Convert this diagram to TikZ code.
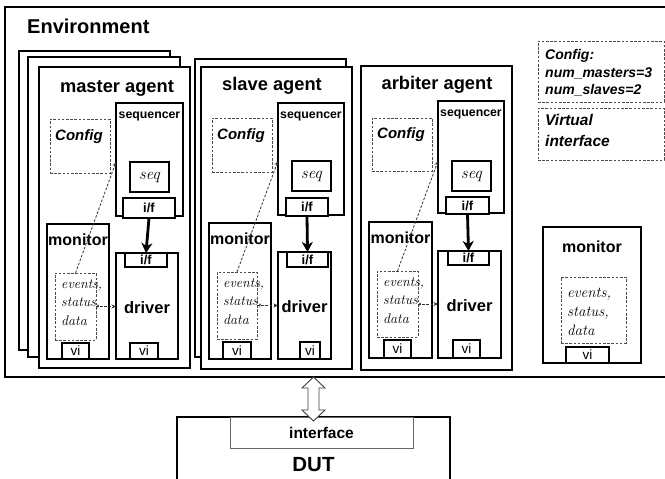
\documentclass[tikz,border=0pt]{standalone}
\usepackage{fontspec}
\newfontfamily\arial{Liberation Sans}
\usetikzlibrary{calc,arrows.meta}
\newcommand\fs[1]{\fontsize{#1}{#1}\selectfont}
% \rbox{style}{name}{x1}{y1}{x2}{y2}
\newcommand\rbox[6]{\node[#1, anchor=north west, minimum width={#5-#3}, minimum height={#6-#4}] (#2) at (#3,#4) {};}
\tikzset{
  basebox/.style={inner sep=0pt, outer sep=0pt, fill=white},
  envbox/.style={basebox, draw=black, line width=2.4pt},
  agentbox/.style={basebox, draw=black, line width=2pt},
  partbox/.style={basebox, draw=black, line width=1.9pt},
  smallbox/.style={basebox, draw=black, line width=1.6pt},
  dashbox/.style={inner sep=0pt, outer sep=0pt, draw=black!70, line width=0.8pt, dash pattern=on 2.6pt off 1.6pt},
  ifacebox/.style={basebox, draw=black!60, line width=0.8pt},
  sanslbl/.style={inner sep=0pt, anchor=base, font=\arial\bfseries\fs{#1}},
  sanslbl/.default=16,
  bilbl/.style={inner sep=0pt, anchor=base west, font=\arial\bfseries\itshape\fs{#1}},
  evlbl/.style={inner sep=0pt, anchor=base west, font=\itshape\fs{#1}},
  cntlbl/.style={inner sep=0pt, font=\arial\bfseries\fs{#1}},
  vilbl/.style={inner sep=0pt, font=\arial\fs{13.5}},
  seqlbl/.style={inner sep=0pt, font=\itshape\fs{16.5}},
  thickarrow/.style={line width=2.8pt, -{Stealth[length=10pt,width=11pt,inset=3pt]}},
  dasharrow/.style={draw=black!80, line width=0.8pt, dash pattern=on 2.6pt off 1.6pt, -{Stealth[length=4.5pt,width=4pt]}},
}
\begin{document}
\begin{tikzpicture}[x=1pt,y=-1pt]
\useasboundingbox (0,0) rectangle (665,479);
\fill[white] (0,0) rectangle (665,479);

% Environment
\rbox{envbox}{env}{5}{7}{669}{377}
\node[sanslbl=20, anchor=base west] (envlbl) at (27,33) {Environment};

% ---------- master agent (stack of three) ----------
\rbox{agentbox}{mback1}{19}{51}{170}{350}
\rbox{agentbox}{mback2}{28}{57}{180}{357}
\rbox{agentbox}{magent}{39}{67}{190}{368}
\node[sanslbl=18.3] (mtitle) at (117,92) {master agent};
\rbox{partbox}{mseqr}{116}{103}{183}{216}
\node[sanslbl=12.3] (mseqrl) at (149.5,118) {sequencer};
\rbox{dashbox}{mcfg}{50}{119}{110}{173}
\node[bilbl=15] (mcfgl) at (55,140) {Config};
\rbox{smallbox}{mseq}{130}{162}{169}{192}
\node[seqlbl] (mseql) at (mseq.center) {seq};
\rbox{smallbox}{mif1}{123}{198}{175}{218}
\node[cntlbl=13] (mif1l) at (mif1.center) {i/f};
\rbox{partbox}{mmon}{47}{224}{109}{359}
\node[sanslbl=16] (mmonl) at (78,245) {monitor};
\rbox{partbox}{mdrv}{116}{253}{178}{359}
\node[cntlbl=16.5] (mdrvl) at (147,308) {driver};
\rbox{smallbox}{mif2}{125}{253}{167}{267}
\node[cntlbl=13] (mif2l) at (mif2.center) {i/f};
\rbox{dashbox}{mev}{55}{273}{96}{340}
\node[evlbl=14] (mev1) at (61,288) {events,};
\node[evlbl=14] (mev2) at (61,306.5) {status,};
\node[evlbl=14] (mev3) at (61,325) {data};
\rbox{smallbox}{mvi1}{62}{343}{89}{359}
\node[vilbl] (mvi1l) at (mvi1.center) {vi};
\rbox{smallbox}{mvi2}{130}{343}{158}{359}
\node[vilbl] (mvi2l) at (mvi2.center) {vi};
\draw[thickarrow] (mif1.south) -- (mif2.north);
\draw[dasharrow] (mev.north) -- (mseqr.west |- mseq.north);
\draw[dasharrow] (mev.east) -- (mev.east -| mdrv.west);

% ---------- slave agent (stack of two) ----------
\rbox{agentbox}{sback1}{195}{59}{346}{357}
\rbox{agentbox}{sagent}{201}{67}{352}{369}
\node[sanslbl=18.3] (stitle) at (272,90) {slave agent};
\rbox{partbox}{sseqr}{278}{103}{344}{215}
\node[sanslbl=12.3] (sseqrl) at (311,118) {sequencer};
\rbox{dashbox}{scfg}{212}{118}{272}{172}
\node[bilbl=15] (scfgl) at (217,139) {Config};
\rbox{smallbox}{sseq}{292}{161}{331}{191}
\node[seqlbl] (sseql) at (sseq.center) {seq};
\rbox{smallbox}{sif1}{286}{198}{328}{216}
\node[cntlbl=13] (sif1l) at (sif1.center) {i/f};
\rbox{partbox}{smon}{209}{223}{271}{359}
\node[sanslbl=16] (smonl) at (240,244) {monitor};
\rbox{partbox}{sdrv}{278}{252}{331}{359}
\node[cntlbl=16.5] (sdrvl) at (304.5,307) {driver};
\rbox{smallbox}{sif2}{287}{252}{328}{267}
\node[cntlbl=13] (sif2l) at (sif2.center) {i/f};
\rbox{dashbox}{sev}{217}{272}{257}{339}
\node[evlbl=14] (sev1) at (223,287) {events,};
\node[evlbl=14] (sev2) at (223,305.5) {status,};
\node[evlbl=14] (sev3) at (223,324) {data};
\rbox{smallbox}{svi1}{223}{342}{251}{359}
\node[vilbl] (svi1l) at (svi1.center) {vi};
\rbox{smallbox}{svi2}{300}{342}{320}{359}
\node[vilbl] (svi2l) at (svi2.center) {vi};
\draw[thickarrow] (sif1.south) -- (sif2.north);
\draw[dasharrow] (sev.north) -- (sseqr.west |- sseq.north);
\draw[dasharrow] (sev.east) -- (sev.east -| sdrv.west);

% ---------- arbiter agent ----------
\rbox{agentbox}{aagent}{361}{66}{512}{370}
\node[sanslbl=18.3] (atitle) at (437,89) {arbiter agent};
\rbox{partbox}{aseqr}{438}{101}{504}{213}
\node[sanslbl=12.3] (aseqrl) at (471,116) {sequencer};
\rbox{dashbox}{acfg}{372}{118}{432}{171}
\node[bilbl=15] (acfgl) at (377,138) {Config};
\rbox{smallbox}{aseq}{452}{161}{491}{191}
\node[seqlbl] (aseql) at (aseq.center) {seq};
\rbox{smallbox}{aif1}{446}{197}{489}{214}
\node[cntlbl=13] (aif1l) at (aif1.center) {i/f};
\rbox{partbox}{amon}{369}{222}{432}{358}
\node[sanslbl=16] (amonl) at (400.5,243) {monitor};
\rbox{partbox}{adrv}{438}{251}{501}{358}
\node[cntlbl=16.5] (adrvl) at (469.5,306) {driver};
\rbox{smallbox}{aif2}{448}{251}{489}{265}
\node[cntlbl=13] (aif2l) at (aif2.center) {i/f};
\rbox{dashbox}{aev}{377}{271}{418}{337}
\node[evlbl=14] (aev1) at (383,286) {events,};
\node[evlbl=14] (aev2) at (383,304.5) {status,};
\node[evlbl=14] (aev3) at (383,323) {data};
\rbox{smallbox}{avi1}{384}{340}{411}{358}
\node[vilbl] (avi1l) at (avi1.center) {vi};
\rbox{smallbox}{avi2}{453}{340}{480}{358}
\node[vilbl] (avi2l) at (avi2.center) {vi};
\draw[thickarrow] (aif1.south) -- (aif2.north);
\draw[dasharrow] (aev.north) -- (aseqr.west |- aseq.north);
\draw[dasharrow] (aev.east) -- (aev.east -| adrv.west);

% ---------- right column ----------
\rbox{dashbox}{gcfg}{538}{41}{664}{102}
\node[bilbl=14] (gcfg1) at (545,59) {Config:};
\node[bilbl=14] (gcfg2) at (545,77) {num\_masters=3};
\node[bilbl=14] (gcfg3) at (545,94) {num\_slaves=2};
\rbox{dashbox}{gvif}{538}{108}{664}{160}
\node[bilbl=15.5] (gvif1) at (545,125) {Virtual};
\node[bilbl=15.5] (gvif2) at (545,146) {interface};
\rbox{partbox}{rmon}{543}{227}{641}{363}
\node[sanslbl=16] (rmonl) at (592,252) {monitor};
\rbox{dashbox}{rev}{561}{277}{626}{343}
\node[evlbl=15] (rev1) at (567,297) {events,};
\node[evlbl=15] (rev2) at (567,316) {status,};
\node[evlbl=15] (rev3) at (567,335) {data};
\rbox{smallbox}{rvi}{566}{347}{609}{363}
\node[vilbl] (rvil) at (rvi.center) {vi};

% ---------- DUT ----------
\rbox{agentbox}{dut}{177}{417}{450}{490}
\rbox{ifacebox}{dutif}{230}{417}{413}{448}
\node[cntlbl=15.5] (dutifl) at (dutif.center) {interface};
\node[sanslbl=20.5] (dutl) at (313.5,471) {DUT};

% double arrow between environment and DUT
\coordinate (dtop) at (dut.north |- env.south);
\coordinate (dbot) at ($(dut.north)+(0,4)$);
\draw[draw=black!75, fill=white, line width=0.9pt]
  (dtop) -- ($(dtop)+(11.5,11)$) -- ($(dtop)+(5.5,11)$) -- ($(dbot)+(5.5,-11)$)
  -- ($(dbot)+(11.5,-11)$) -- (dbot) -- ($(dbot)+(-11.5,-11)$) -- ($(dbot)+(-5.5,-11)$)
  -- ($(dtop)+(-5.5,11)$) -- ($(dtop)+(-11.5,11)$) -- cycle;
\end{tikzpicture}
\end{document}
